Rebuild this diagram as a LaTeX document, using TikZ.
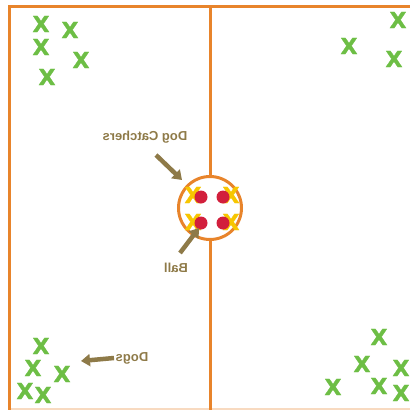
\documentclass[tikz,border=0pt]{standalone}
\usepackage{fontspec}
\setmainfont{Liberation Sans}
\newfontfamily\heavyfont[FakeBold=1.2]{DejaVu Sans Bold}
\usetikzlibrary{arrows.meta,positioning}
\definecolor{field}{HTML}{E8842B}
\definecolor{dog}{HTML}{6DBE45}
\definecolor{catcher}{HTML}{F7C600}
\definecolor{ball}{HTML}{D21F3C}
\definecolor{note}{HTML}{8E7A48}
\begin{document}
\begin{tikzpicture}[x=1pt,y=-1pt,
    every node/.style={font=\bfseries},
    dogx/.style={text=dog,inner sep=0pt,font=\heavyfont\fontsize{22}{22}\selectfont},
    catchx/.style={text=catcher,inner sep=0pt,font=\heavyfont\fontsize{22}{22}\selectfont},
    label/.style={text=note,xscale=-1,font=\fontsize{13}{13}\selectfont\bfseries},
    pointer/.style={note,line width=4.5pt,-{Triangle[length=9pt,width=12pt]}}]
      \useasboundingbox (0,0) rectangle (410,410);
      \draw[field!30,line width=1.5pt] (8,409)--(410,409);
      \draw[field,line width=3pt] (9,410)--(9,6)--(410,6);
      \draw[field,line width=3pt] (210,6)--(210,410);
      \node[draw=field,line width=3pt,circle,fill=white,minimum size=63pt] (pen) at (210,208) {};
      % dogs
      \foreach \x/\y [count=\i] in {41/24,70/30,41/47,81/60,47/77,398/20,349/46,394/59,
          41/346,33/368,62/374,25/391,43/395,379/337,362/364,401/368,333/387,379/386,401/393}
        \node[dogx] (d\i) at (\x,\y) {X};
      % catchers and balls
      \foreach \x/\y [count=\i] in {193/195,231/195,193/222,231/222}
        \node[catchx] (c\i) at (\x,\y) {X};
      \foreach \x/\y [count=\i] in {201/197,223/197,201/223,223/223}
        \fill[ball] (\x,\y) circle (6.5pt) coordinate (b\i);
      \node[label] (catchers) at (145,137) {Dog Catchers};
      \node[label] (balltext) at (176,268) {Ball};
      \node[label] (dogs) at (132,358) {Dogs};
      \coordinate (catchtail) at (156,155);
      \coordinate (catchtip) at (182,180);
      \coordinate (balltail) at (180,253);
      \coordinate (balltip) at (199,228);
      \coordinate (dogtail) at (114,358);
      \coordinate (dogtip) at (81,361);
      \draw[pointer] (catchtail)--(catchtip);
      \draw[pointer] (balltail)--(balltip);
      \draw[pointer] (dogtail)--(dogtip);
    \end{tikzpicture}
\end{document}
